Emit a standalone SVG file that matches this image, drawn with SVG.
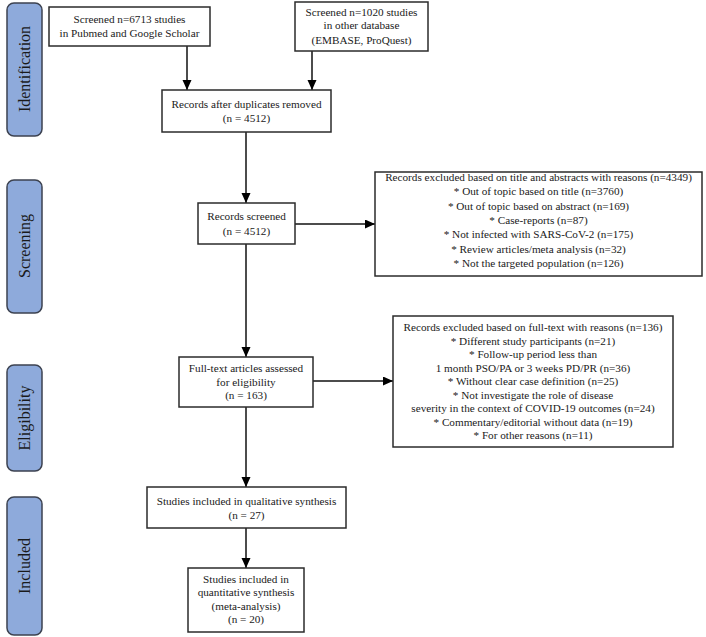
<svg xmlns="http://www.w3.org/2000/svg" width="706" height="637" viewBox="0 0 706 637">
<style>
.bg{fill:#ffffff}
.box{fill:#ffffff;stroke:#2b2b2b;stroke-width:1.5}
.side{fill:#8eaadb;stroke:#3c4250;stroke-width:1.5}
.t{font-family:"Liberation Serif","Times New Roman",serif;font-size:11.2px;fill:#1a1a1a;text-anchor:middle}
.st{font-family:"Liberation Serif","Times New Roman",serif;font-size:16px;fill:#1a1a1a;text-anchor:middle}
.ln{stroke:#111;stroke-width:1.5;fill:none}
</style>
<defs>
<marker id="av" markerWidth="10" markerHeight="12" refX="10" refY="4.5" orient="auto" markerUnits="userSpaceOnUse">
<path d="M0,0 L10,4.5 L0,9 Z" fill="#000"/>
</marker>
</defs>
<rect class="bg" x="0" y="0" width="706" height="637"/>

<g id="phase-identification">
<rect class="side" x="7" y="3" width="35" height="133" rx="7"/>
<text class="st" transform="translate(30,69) rotate(-90)">Identification</text>
</g>
<g id="phase-screening">
<rect class="side" x="7" y="180" width="35" height="133" rx="7"/>
<text class="st" transform="translate(30,246) rotate(-90)">Screening</text>
</g>
<g id="phase-eligibility">
<rect class="side" x="7" y="365" width="35" height="106" rx="7"/>
<text class="st" transform="translate(30,418) rotate(-90)">Eligibility</text>
</g>
<g id="phase-included">
<rect class="side" x="7" y="497" width="35" height="138" rx="7"/>
<text class="st" transform="translate(30,566) rotate(-90)">Included</text>
</g>

<g id="connectors">
<line class="ln" x1="187" y1="46" x2="187" y2="90" marker-end="url(#av)"/>
<line class="ln" x1="312" y1="51" x2="312" y2="90" marker-end="url(#av)"/>
<line class="ln" x1="246" y1="132" x2="246" y2="203" marker-end="url(#av)"/>
<line class="ln" x1="295" y1="224" x2="375" y2="224" marker-end="url(#av)"/>
<line class="ln" x1="246" y1="244" x2="246" y2="357" marker-end="url(#av)"/>
<line class="ln" x1="313" y1="381" x2="393" y2="381" marker-end="url(#av)"/>
<line class="ln" x1="246" y1="407" x2="246" y2="487" marker-end="url(#av)"/>
<line class="ln" x1="246" y1="528" x2="246" y2="568" marker-end="url(#av)"/>
</g>

<g id="screened-pubmed">
<rect class="box" x="49" y="7" width="161" height="39"/>
<text class="t" x="129.5" y="23">Screened n=6713 studies</text>
<text class="t" x="129.5" y="37">in Pubmed and Google Scholar</text>
</g>

<g id="screened-other">
<rect class="box" x="295" y="2" width="133" height="49"/>
<text class="t" x="361.5" y="16">Screened n=1020 studies</text>
<text class="t" x="361.5" y="29">in other database</text>
<text class="t" x="361.5" y="44">(EMBASE, ProQuest)</text>
</g>

<g id="duplicates-removed">
<rect class="box" x="162" y="90" width="169" height="42"/>
<text class="t" x="246.5" y="108">Records after duplicates removed</text>
<text class="t" x="246.5" y="122">(n = 4512)</text>
</g>

<g id="records-screened">
<rect class="box" x="198" y="203" width="97" height="41"/>
<text class="t" x="246.5" y="220">Records screened</text>
<text class="t" x="246.5" y="235">(n = 4512)</text>
</g>

<g id="excluded-title-abstract">
<rect class="box" x="375" y="172" width="327" height="104"/>
<text class="t" x="538.5" y="181">Records excluded based on title and abstracts with reasons (n=4349)</text>
<text class="t" x="538.5" y="195">* Out of topic based on title (n=3760)</text>
<text class="t" x="538.5" y="210">* Out of topic based on abstract (n=169)</text>
<text class="t" x="538.5" y="224">* Case-reports (n=87)</text>
<text class="t" x="538.5" y="238">* Not infected with SARS-CoV-2 (n=175)</text>
<text class="t" x="538.5" y="253">* Review articles/meta analysis (n=32)</text>
<text class="t" x="538.5" y="267">* Not the targeted population (n=126)</text>
</g>

<g id="full-text-assessed">
<rect class="box" x="179" y="357" width="134" height="50"/>
<text class="t" x="246" y="372">Full-text articles assessed</text>
<text class="t" x="246" y="386">for eligibility</text>
<text class="t" x="246" y="399">(n = 163)</text>
</g>

<g id="excluded-full-text">
<rect class="box" x="393" y="316" width="280" height="131"/>
<text class="t" x="533" y="331">Records excluded based on full-text with reasons (n=136)</text>
<text class="t" x="533" y="345">* Different study participants (n=21)</text>
<text class="t" x="533" y="358">* Follow-up period less than</text>
<text class="t" x="533" y="372">1 month PSO/PA or 3 weeks PD/PR (n=36)</text>
<text class="t" x="533" y="385">* Without clear case definition (n=25)</text>
<text class="t" x="533" y="399">* Not investigate the role of disease</text>
<text class="t" x="533" y="412">severity in the context of COVID-19 outcomes (n=24)</text>
<text class="t" x="533" y="426">* Commentary/editorial without data (n=19)</text>
<text class="t" x="533" y="439">* For other reasons (n=11)</text>
</g>

<g id="qualitative">
<rect class="box" x="147" y="487" width="199" height="41"/>
<text class="t" x="246.5" y="505">Studies included in qualitative synthesis</text>
<text class="t" x="246.5" y="519">(n = 27)</text>
</g>

<g id="quantitative">
<rect class="box" x="188" y="568" width="116" height="64"/>
<text class="t" x="246" y="583">Studies included in</text>
<text class="t" x="246" y="596">quantitative synthesis</text>
<text class="t" x="246" y="610">(meta-analysis)</text>
<text class="t" x="246" y="623">(n = 20)</text>
</g>
</svg>
